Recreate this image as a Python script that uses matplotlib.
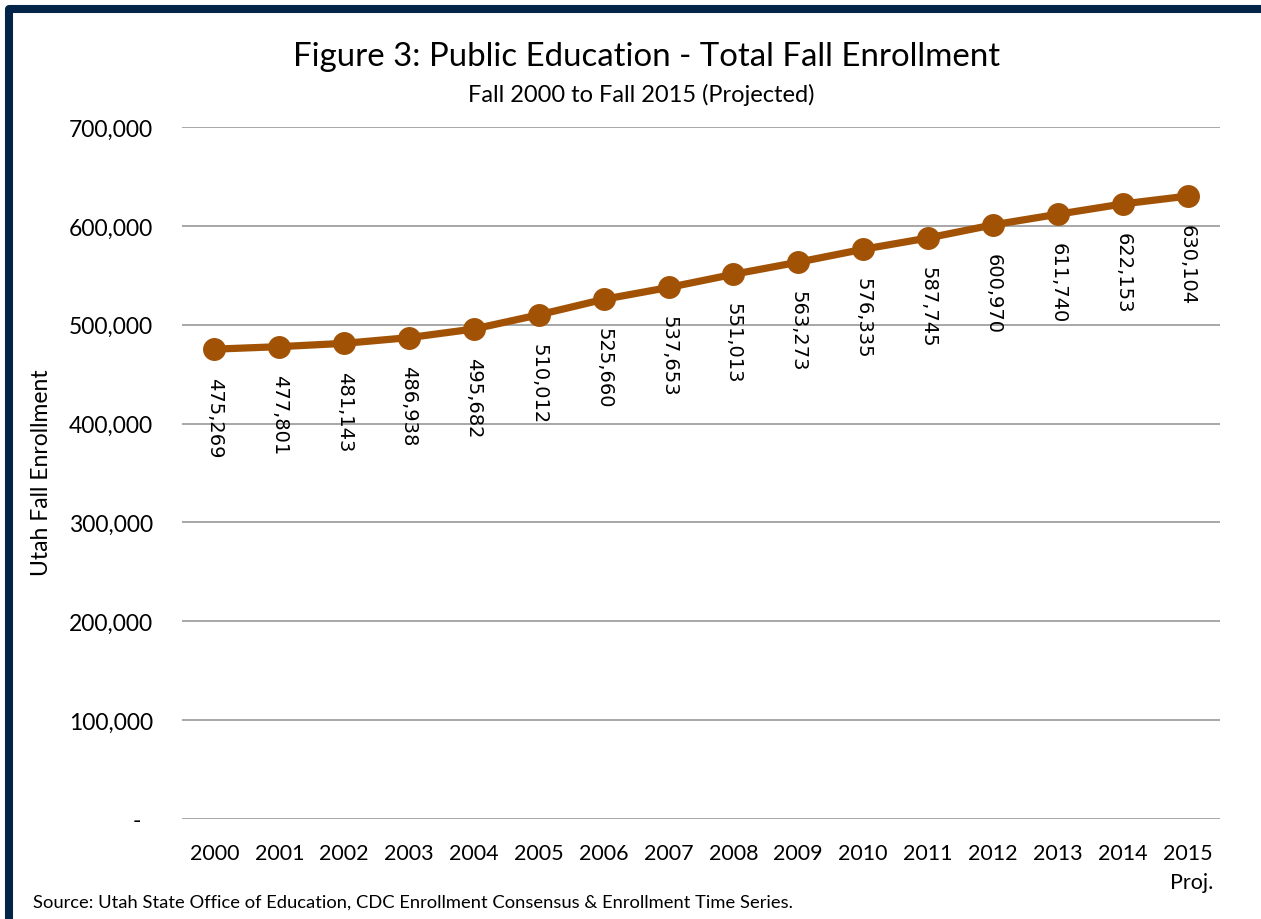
import matplotlib
matplotlib.use("Agg")
import matplotlib.pyplot as plt
from matplotlib.patches import Rectangle
from matplotlib.ticker import FuncFormatter

years = ["2000", "2001", "2002", "2003", "2004", "2005", "2006", "2007",
         "2008", "2009", "2010", "2011", "2012", "2013", "2014", "2015"]
enrollment = [475269, 477801, 481143, 486938, 495682, 510012, 525660, 537653,
              551013, 563273, 576335, 587745, 600970, 611740, 622153, 630104]
yticks = [0, 100000, 200000, 300000, 400000, 500000, 600000, 700000]

title = "Figure 3: Public Education - Total Fall Enrollment"
subtitle = "Fall 2000 to Fall 2015 (Projected)"
ylabel = "Utah Fall Enrollment"
source = "Source: Utah State Office of Education, CDC Enrollment Consensus & Enrollment Time Series."

W, H = 1261, 920
plt.rcParams['font.family'] = ['Lato', 'DejaVu Sans']
fig = plt.figure(figsize=(W / 100, H / 100), dpi=100)
fig.patch.set_facecolor('white')

def fx(px):
    return px / W

def fy(py):
    return 1 - py / H

ax = fig.add_axes([fx(182), fy(820), fx(1220) - fx(182), fy(128) - fy(820)])
x = list(range(len(years)))
line_color = '#A25205'
ax.plot(x, enrollment, color=line_color, lw=5.2, marker='o', markersize=15.5,
        markerfacecolor=line_color, markeredgecolor=line_color, zorder=3,
        solid_capstyle='round')
for xi, v in zip(x, enrollment):
    ax.annotate(f"{v:,}", (xi, v), xytext=(0, -20), textcoords='offset points',
                rotation=270, ha='center', va='top', fontsize=14,
                family='DejaVu Sans', color='black', zorder=4)

ax.set_xlim(-0.5, len(years) - 0.5)
ax.set_ylim(0, 700000)
ax.set_yticks(yticks)
ax.yaxis.set_major_formatter(FuncFormatter(lambda v, p: "-  " if v == 0 else f"{int(v):,}"))
ax.set_xticks(x)
ax.set_xticklabels(years)
ax.grid(axis='y', color='#A0A0A0', lw=1.3)
ax.set_axisbelow(True)
for s in ax.spines.values():
    s.set_visible(False)
ax.tick_params(axis='both', length=0, colors='black')
ax.tick_params(axis='x', pad=17, labelsize=15.5)
ax.tick_params(axis='y', pad=21, labelsize=16.5)

fig.text(fx(42), fy(473), ylabel, rotation=90, ha='center', va='center', fontsize=16.5)
fig.text(fx(647), fy(57), title, ha='center', va='center', fontsize=23.8)
fig.text(fx(641), fy(95), subtitle, ha='center', va='center', fontsize=17)
fig.text(fx(1213), fy(883), "Proj.", ha='right', va='center', fontsize=15.5)
fig.text(fx(33), fy(903), source, ha='left', va='center', fontsize=13.2)

border = Rectangle((fx(9), fy(924)), fx(1300) - fx(9), fy(10) - fy(924),
                   transform=fig.transFigure, fill=False, edgecolor='#022448',
                   lw=5.8, joinstyle='round', clip_on=False)
fig.patches.append(border)

fig.savefig("out.png", dpi=100, facecolor='white')
